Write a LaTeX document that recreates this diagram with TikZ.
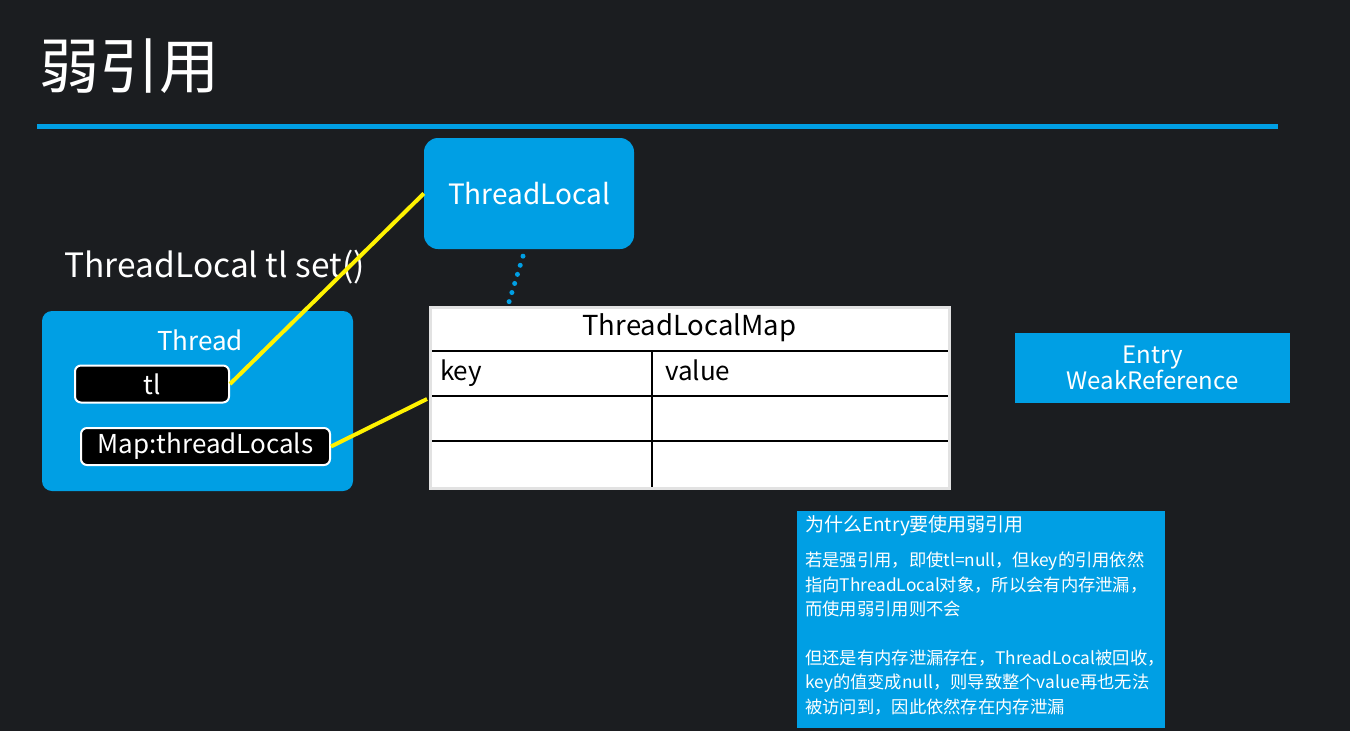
\documentclass[tikz,border=0pt]{standalone}
\usepackage{fontspec}
\setmainfont{Noto Sans CJK SC}
\usetikzlibrary{positioning}
\definecolor{slidebg}{HTML}{1B1D20}
\definecolor{slideblue}{HTML}{009FE4}
\definecolor{linkyellow}{HTML}{FFF200}
\definecolor{mapgrey}{HTML}{E2E2E2}

\begin{document}
\begin{tikzpicture}[
    x=1pt, y=-1pt,
    blockbox/.style={fill=slideblue, text=white, rounded corners=14pt, inner sep=0pt},
    fieldbox/.style={fill=black, draw=white, line width=2pt, rounded corners=6pt, text=white,
      inner sep=0pt, minimum height=37pt, font=\fontsize{26}{28}\selectfont},
    cell/.style={draw=black, line width=2pt, fill=white, minimum height=45pt, anchor=north west,
      inner sep=0pt, outer sep=0pt, text height=19pt, text depth=6pt, font=\fontsize{26}{28}\selectfont},
    link/.style={draw=linkyellow, line width=4pt},
    dotline/.style={draw=slideblue, line width=5pt, line cap=round, dash pattern=on 0pt off 9.5pt}
  ]
    \fill[slidebg] (0,0) rectangle (1350,731);
    \node[anchor=west, text=white, font=\fontsize{60}{62}\selectfont] (title) at (36,66) {弱引用};
    \draw[slideblue, line width=5pt] (37,126) -- (1278,126);

    % ThreadLocal object
    \node[blockbox, minimum width=210pt, minimum height=111pt, font=\fontsize{28}{30}\selectfont] (tlobj) at (529,193.5) {ThreadLocal};
    \node[anchor=west, text=white, font=\fontsize{33.5}{35}\selectfont] (setcall) at (61,267) {ThreadLocal tl set()};

    % Thread
    \node[blockbox, rounded corners=10pt, minimum width=311pt, minimum height=180pt] (thread) at (197.5,401) {};
    \node[text=white, font=\fontsize{26}{28}\selectfont] (threadlbl) at (200,340) {Thread};
    \node[fieldbox, minimum width=154pt] (tl) at (152,384) {tl};
    \node[fieldbox, minimum width=249pt] (map) at (205.5,446.5) {Map:threadLocals};

    % ThreadLocalMap table
    \node[cell, minimum width=519pt, minimum height=44pt, font=\fontsize{27.5}{29}\selectfont] (maphead) at (430,307) {ThreadLocalMap};
    \node[cell, minimum width=222pt, text width=202pt, align=left] (keycell) at (430,351) {key};
    \node[cell, minimum width=297pt, text width=271pt, align=left] (valcell) at (keycell.north east) {value};
    \node[cell, minimum width=222pt] (key2) at (keycell.south west) {};
    \node[cell, minimum width=297pt] (val2) at (key2.north east) {};
    \node[cell, minimum width=222pt, minimum height=47pt] (key3) at (key2.south west) {};
    \node[cell, minimum width=297pt, minimum height=47pt] (val3) at (key3.north east) {};
    \draw[mapgrey, line width=3pt] (maphead.north west) rectangle (val3.south east);

    \coordinate (mapin) at (427,399);
    \draw[link] (tl.east) -- (tlobj.west);
    \draw[link] (map.east) -- (mapin);
    \draw[dotline] ([xshift=-6pt,yshift=-7pt]tlobj.south) -- ([xshift=79pt,yshift=5pt]maphead.north west);

    % Entry
    \node[fill=slideblue, text=white, minimum width=275pt, minimum height=70pt, inner sep=0pt, align=center,
      font=\fontsize{24}{24}\selectfont] (entry) at (1152.5,368) {Entry\\WeakReference};

    % note
    \node[fill=slideblue, minimum width=368pt, minimum height=217pt, anchor=north west, inner sep=0pt] (note) at (797,511) {};
    \node[anchor=north west, text=white, inner sep=0pt, font=\fontsize{19}{20}\selectfont] (notetitle) at (805,515) {为什么Entry要使用弱引用};
    \node[anchor=north west, text=white, inner sep=0pt, align=left, font=\fontsize{17.3}{24.5}\selectfont] (notebody) at (805,552)
      {若是强引用，即使tl=null，但key的引用依然\\指向ThreadLocal对象，所以会有内存泄漏，\\而使用弱引用则不会\\[24pt]
       但还是有内存泄漏存在，ThreadLocal被回收，\\key的值变成null，则导致整个value再也无法\\被访问到，因此依然存在内存泄漏};
\end{tikzpicture}
\end{document}
